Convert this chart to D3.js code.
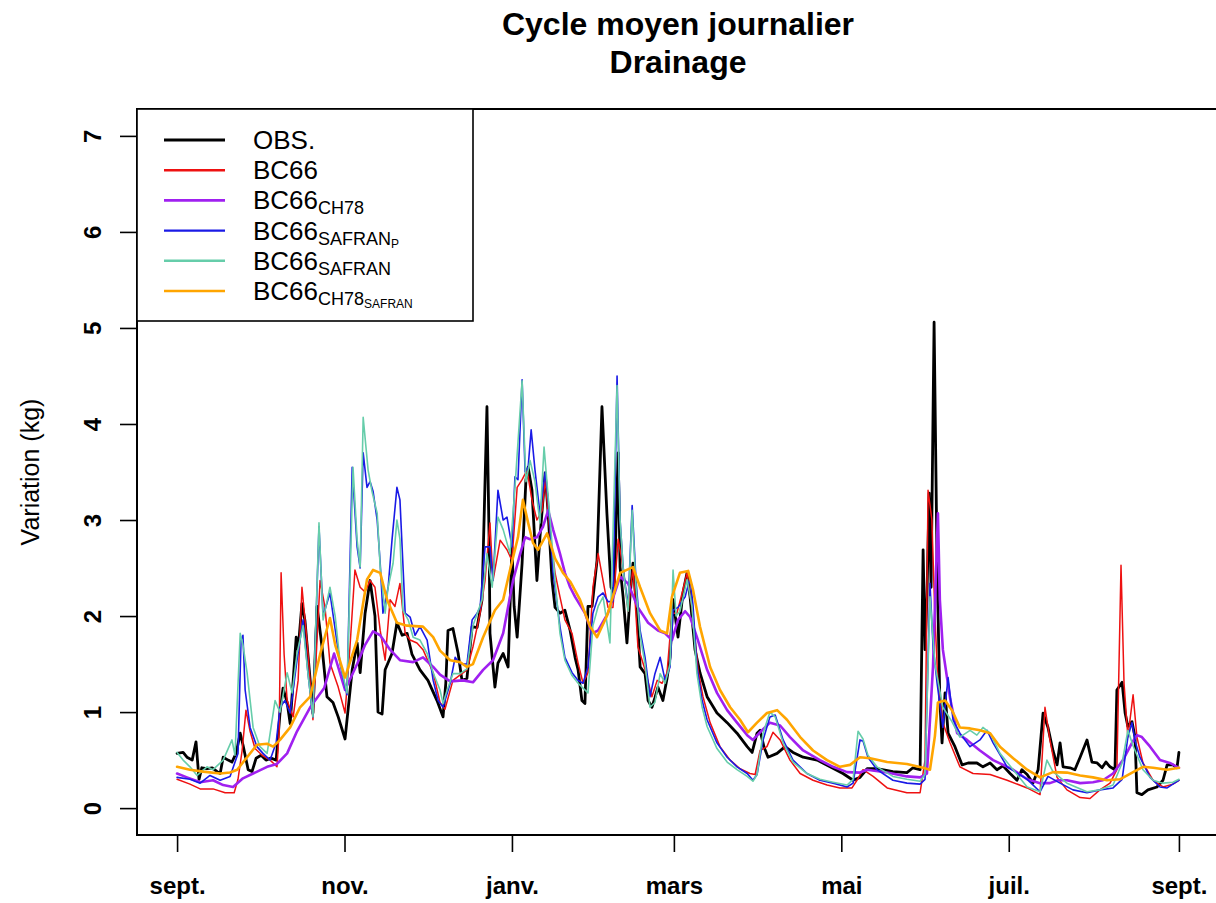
<!DOCTYPE html>
<html><head><meta charset="utf-8">
<script src="https://cdn.jsdelivr.net/npm/d3@7"></script>
<style>
body{margin:0;background:#fff}
svg{display:block}
text{font-family:"Liberation Sans",Arial,Helvetica,sans-serif;fill:#000}
</style>
</head><body>
<svg id="chart" width="1216" height="903"></svg>
<script>
// ---- data: [day since 1 Sept, drainage variation (kg)] ----
const obs = [[0,0.57],[2.2,0.58],[3.6,0.53],[5.5,0.5],[6.9,0.69],[8,0.3],[9,0.42],[10.9,0.41],[12.8,0.42],[14.6,0.38],[15.7,0.36],[16.8,0.53],[18.6,0.5],[20,0.48],[21.5,0.57],[23,0.78],[24,0.66],[25.9,0.4],[27.3,0.38],[28.8,0.52],[30.6,0.55],[32.4,0.5],[34.2,0.52],[36.1,0.5],[37.5,0.99],[38.6,1.25],[40.1,1.1],[41.2,0.88],[42.3,1.33],[43.4,1.78],[44.1,1.65],[45.5,2.13],[46.6,1.95],[48.5,1.33],[49.5,0.99],[51,2.1],[52.8,1.68],[54.6,1.16],[56.8,1.1],[58.7,0.95],[61.2,0.72],[63.8,1.44],[65.6,1.72],[66.7,1.41],[68.5,2.03],[70.3,2.37],[72.1,2.0],[73.2,1.0],[74.7,0.98],[75.8,1.44],[78.3,1.61],[80.1,1.93],[82,1.8],[83.8,1.82],[85.6,1.6],[88.5,1.44],[91.4,1.33],[94.7,1.12],[96.9,0.95],[97.9,1.3],[98.7,1.85],[100.5,1.87],[102.4,1.61],[103.8,1.33],[105.6,1.35],[107.5,1.89],[109.3,1.88],[111.1,2.17],[112.9,4.18],[113.7,2.76],[114,1.82],[115.8,1.26],[116.9,1.51],[118.8,1.61],[120.6,1.47],[122,2.72],[122.8,2.1],[123.9,1.78],[125.7,2.55],[127.1,3.42],[127.9,3.55],[129.3,3.31],[131.1,2.37],[132.2,2.82],[134.1,3.49],[135.2,3.07],[136.6,2.37],[137.7,2.09],[139.5,2.03],[141.3,2.06],[143.2,1.85],[145,1.57],[146.1,1.44],[147.5,1.12],[148.6,1.09],[149.7,2.1],[151.2,2.1],[153,2.58],[154.8,4.18],[156.6,3.07],[158.1,2.3],[159.2,2.24],[160.7,3.7],[161.4,2.51],[162.5,2.2],[163.9,1.72],[165,2.2],[166.1,2.55],[167.6,2.03],[168.7,1.47],[170.5,1.4],[171.6,1.12],[173,1.05],[174.1,1.15],[175.2,1.26],[177,1.12],[178.5,1.35],[179.6,1.57],[180.7,2.17],[182.5,1.78],[184.3,2.24],[185.8,2.45],[186.9,2.2],[188.7,1.65],[190.5,1.41],[193.1,1.16],[196.7,0.99],[200.4,0.89],[204,0.78],[207.7,0.64],[209.5,0.58],[211.3,0.78],[212.4,0.81],[213.8,0.64],[215.3,0.53],[218.6,0.57],[221.5,0.64],[224.4,0.58],[228.1,0.53],[233.2,0.5],[237.9,0.43],[242.6,0.36],[246.3,0.29],[248.8,0.32],[251.4,0.41],[255,0.41],[260.8,0.38],[265.9,0.37],[268.1,0.42],[270.7,0.4],[271.8,2.69],[272.5,1.65],[273.2,2.2],[274,3.28],[274.7,2.3],[275.8,5.06],[276.9,2.5],[277.9,1.12],[278.7,0.68],[279.8,1.2],[280.9,0.78],[283.4,0.64],[286,0.45],[288.2,0.47],[291.4,0.47],[293.6,0.43],[296.2,0.47],[298.7,0.4],[300.9,0.44],[303.5,0.36],[306,0.29],[307.8,0.4],[309.7,0.35],[311.8,0.26],[313.7,0.4],[315.5,0.99],[317.3,0.84],[319.1,0.6],[320.6,0.45],[321.7,0.68],[322.8,0.43],[325.3,0.42],[327.1,0.4],[329,0.53],[331.5,0.71],[333.3,0.48],[335.2,0.47],[337,0.42],[338.4,0.48],[339.9,0.43],[341.7,0.4],[342.4,1.23],[344.3,1.31],[345.4,0.99],[346.4,0.85],[347.9,0.9],[349,0.74],[349.7,0.16],[351.5,0.14],[353.7,0.19],[357,0.22],[359.2,0.29],[360.7,0.45],[362.8,0.45],[364.3,0.42],[365,0.58]];

const bc66 = [[0,0.3],[4.7,0.25],[8.4,0.2],[13.1,0.2],[17.5,0.16],[20.8,0.16],[22.2,0.3],[23.7,0.6],[25.1,1.02],[26.6,0.8],[28.4,0.62],[31,0.55],[33.9,0.5],[36.4,0.43],[37.2,0.8],[37.9,2.45],[39,1.6],[40.1,1.12],[42.3,0.95],[44.1,1.33],[45.5,2.3],[47.4,1.72],[49.5,0.92],[52.1,2.37],[53.9,2.09],[55.7,1.51],[58.7,1.26],[61.2,0.99],[63,1.68],[64.8,2.48],[66.7,2.3],[68.5,2.25],[70.3,2.37],[72.1,2.3],[74,1.85],[75.8,1.54],[77.6,2.17],[79.4,2.1],[81.2,2.34],[83.1,1.82],[84.9,1.75],[87.4,1.72],[89.6,1.65],[93.3,1.41],[95.8,1.1],[97.6,1.03],[100.5,1.33],[105.6,1.44],[107.8,1.68],[110.4,2.03],[112.2,2.37],[114,2.97],[115.1,2.37],[117.7,2.79],[120.2,2.69],[122,2.58],[123.9,3.34],[125.7,3.42],[127.5,3.52],[129.3,3.21],[131.1,3.0],[133,3.1],[134.1,3.42],[135.9,2.86],[137.7,2.45],[139.5,2.2],[141.3,1.96],[143.9,1.82],[146.1,1.51],[147.9,1.3],[149.7,1.41],[151.5,2.3],[153.4,2.65],[155.2,2.37],[157,2.09],[158.8,2.09],[160.7,2.8],[162.5,2.51],[164.3,2.05],[166.1,2.51],[167.9,1.68],[170.5,1.44],[173,1.16],[174.9,1.33],[176.7,1.3],[178.5,1.41],[180.3,2.03],[182.1,2.03],[184,2.24],[185.8,2.45],[188,1.99],[189.8,1.44],[191.6,1.16],[194.2,0.89],[197.8,0.64],[201.5,0.5],[205.1,0.41],[208.7,0.36],[210.6,0.35],[212.4,0.6],[214.9,0.64],[217.1,0.79],[219.7,0.71],[223.3,0.5],[227,0.36],[231.7,0.29],[236.8,0.24],[241.5,0.21],[245.9,0.21],[247.7,0.29],[249.9,0.4],[253.6,0.33],[258.7,0.21],[265.9,0.16],[270.7,0.16],[272.5,0.5],[273.6,3.31],[275,3.0],[276.1,2.0],[277.2,1.3],[279,0.89],[281.6,0.68],[285.2,0.43],[290,0.36],[296.2,0.35],[302.4,0.29],[309.7,0.21],[314.4,0.14],[316.2,1.05],[318,0.71],[320.6,0.32],[324.2,0.19],[329,0.11],[332.6,0.1],[336.2,0.19],[339.9,0.26],[342.4,0.4],[343.9,2.53],[345,1.3],[346.4,0.74],[348.3,1.18],[349.7,0.74],[351.9,0.47],[355.6,0.29],[359.2,0.22],[362.8,0.25],[365,0.29]];

const bc66ch78 = [[0,0.36],[3.6,0.32],[8.4,0.27],[13.1,0.29],[16.8,0.24],[20.4,0.22],[24,0.31],[27.7,0.36],[32.8,0.43],[36.4,0.46],[40.1,0.57],[43.7,0.8],[48.5,1.05],[53.6,1.25],[57.2,1.61],[61.2,1.23],[65.6,1.5],[68.5,1.7],[71.4,1.84],[74,1.8],[77.6,1.65],[81.2,1.54],[86,1.52],[89.6,1.57],[93.3,1.47],[95.8,1.39],[99.5,1.32],[104.2,1.33],[107.8,1.31],[111.5,1.44],[115.1,1.54],[118.8,1.82],[122.4,2.37],[125,2.65],[126.8,2.82],[128.6,2.8],[131.1,2.82],[133.3,2.93],[135.2,3.1],[137,2.9],[139.5,2.65],[141.3,2.45],[143.2,2.3],[145,2.2],[148.6,2.03],[151.2,1.82],[153.4,1.85],[157,2.03],[161.4,2.41],[164.3,2.34],[167.9,2.09],[171.6,1.93],[175.2,1.85],[177.8,1.82],[180.3,1.75],[182.5,1.96],[185.1,2.05],[186.9,1.99],[189.4,1.78],[193.1,1.44],[196.7,1.2],[200.4,1.02],[204,0.89],[207.7,0.76],[209.8,0.71],[212.4,0.79],[216,0.89],[219.7,0.86],[223.3,0.74],[228.1,0.6],[234.2,0.5],[239,0.43],[244.1,0.375],[248.8,0.37],[251.4,0.4],[258.7,0.37],[265.9,0.33],[270.7,0.32],[273.2,0.36],[275.4,1.47],[277.2,3.07],[277.9,2.17],[279,1.65],[280.5,1.36],[281.6,1.15],[284.2,0.78],[287.8,0.71],[292.5,0.6],[297.3,0.5],[304.6,0.4],[309.7,0.3],[314.4,0.26],[318,0.26],[320.9,0.29],[324.2,0.29],[329,0.26],[333.7,0.27],[337.3,0.29],[341,0.36],[344.6,0.5],[347.9,0.68],[349.7,0.76],[351.5,0.74],[354.5,0.64],[358.1,0.5],[361.7,0.47],[365,0.42]];

const bc66safranP = [[0,0.32],[4.7,0.3],[8.4,0.26],[12,0.34],[15.7,0.29],[19.3,0.33],[22.2,0.57],[23.3,1.75],[24,1.8],[24.8,1.23],[26.6,0.84],[29.1,0.64],[31.3,0.57],[33.9,0.5],[36.1,0.68],[37.5,1.05],[39.3,1.12],[41.2,0.99],[43.7,1.54],[45.9,1.96],[47.7,1.4],[49.5,0.95],[51.7,2.93],[53.2,2.0],[55.7,2.24],[59.4,1.5],[61.9,1.18],[63.8,3.55],[65.6,2.72],[66.7,2.5],[67.8,3.7],[69.2,3.34],[70.3,3.4],[71.4,3.3],[72.9,3.0],[74,2.55],[75,2.03],[76.9,2.3],[78.3,2.79],[80.1,3.34],[81.2,3.21],[83.1,2.03],[84.9,1.99],[86.7,1.8],[88.5,1.89],[91.1,1.75],[93.3,1.33],[95.1,1.12],[96.9,1.05],[99.5,1.3],[101.3,1.57],[103.1,1.5],[105.6,1.5],[107.5,1.96],[109.3,2.03],[110.4,2.09],[112.2,2.72],[114,2.72],[115.1,2.37],[116.9,3.31],[118.8,3.0],[120.2,3.03],[122,2.72],[123.1,3.45],[124.2,3.42],[125.7,4.46],[126.8,3.5],[127.9,3.55],[129,3.94],[130.4,3.52],[132.2,3.07],[134.1,3.5],[135.2,3.21],[137,2.45],[139.5,1.89],[141.3,1.57],[143.9,1.41],[146.1,1.33],[147.9,1.3],[149.7,1.47],[151.5,2.03],[153.4,2.2],[155.2,2.24],[157,2.15],[158.8,2.15],[160.3,4.5],[161.4,3.0],[162.5,2.51],[164.3,2.09],[165.8,3.15],[167.2,2.37],[168.7,1.85],[170.5,1.57],[172.3,1.16],[174.1,1.4],[176,1.57],[177.8,1.33],[179.6,1.47],[180.7,2.06],[182.5,2.09],[185.1,2.2],[186.9,2.4],[188,2.1],[189.4,1.47],[191.3,1.12],[193.1,0.92],[196.7,0.68],[200.4,0.53],[204,0.43],[207.7,0.36],[209.8,0.29],[211.3,0.35],[213.5,0.71],[216,0.95],[217.9,0.97],[220.8,0.71],[224.4,0.5],[229.5,0.36],[234.2,0.29],[239,0.26],[244.1,0.22],[246.3,0.26],[248.8,0.71],[249.9,0.7],[251.7,0.53],[255,0.4],[260.8,0.29],[265.9,0.26],[270.7,0.25],[272.5,0.3],[274.3,2.34],[275.4,1.7],[276.9,1.3],[279,0.84],[280.9,1.36],[282.7,0.92],[285.2,0.78],[288.9,0.64],[292.5,0.71],[295.1,0.81],[297.3,0.68],[302.4,0.43],[309.7,0.3],[314.4,0.17],[317.3,0.33],[321.7,0.26],[326.4,0.19],[331.5,0.16],[336.2,0.19],[341,0.21],[344.3,0.3],[346.4,0.74],[347.9,0.89],[349,0.7],[350.8,0.53],[354.5,0.32],[358.1,0.22],[360.7,0.21],[362.8,0.25],[365,0.29]];

const bc66safran = [[0,0.58],[2.2,0.5],[4.7,0.43],[7.3,0.34],[10.9,0.43],[13.1,0.4],[16.8,0.5],[20,0.71],[21.1,0.55],[23,1.82],[24,1.7],[25.5,1.41],[27.7,0.84],[30.2,0.64],[32.8,0.57],[35.7,1.12],[37.5,1.0],[40.1,1.41],[41.9,1.2],[43.7,1.61],[45.9,1.9],[47.7,1.4],[49.5,0.95],[51.7,2.97],[53.2,1.96],[55.7,2.3],[57.6,2.0],[59.4,1.51],[61.9,1.2],[64.1,3.55],[65.6,2.79],[66.7,2.51],[67.8,4.07],[69.6,3.52],[71,3.3],[72.9,3.07],[74,2.51],[75.8,2.03],[76.9,2.3],[78.7,2.55],[80.1,3.0],[81.2,2.8],[82.3,2.06],[84.2,1.96],[86,1.78],[88.5,1.75],[91.1,1.61],[93.3,1.41],[95.8,1.23],[96.9,1.09],[98.4,1.23],[100.5,1.4],[103.1,1.4],[105.6,1.45],[107.8,1.9],[111.1,2.17],[112.9,2.65],[114.8,2.3],[116.9,3.03],[118.8,2.9],[121.3,2.65],[123.1,3.34],[125.7,4.45],[127.1,3.4],[128.6,3.62],[130.4,3.4],[132.2,2.97],[133.7,3.76],[135.9,3.0],[137.7,2.375],[139.5,1.82],[141.3,1.54],[143.9,1.38],[146.1,1.3],[149.7,1.2],[151.5,1.9],[153.4,2.1],[155.2,2.2],[157.7,1.72],[160.3,4.4],[161.4,3.0],[162.5,2.5],[164.3,2.05],[165.8,3.1],[167.2,2.3],[168.7,1.8],[170.5,1.5],[172.3,1.05],[174.1,1.1],[176,1.4],[177.8,1.3],[179.6,1.5],[180.7,2.48],[181.8,2.0],[183.2,2.05],[185.8,2.38],[187.6,2.1],[189.4,1.4],[191.3,1.05],[193.1,0.85],[196.7,0.62],[200.4,0.48],[204,0.4],[207.7,0.33],[209.8,0.28],[211.3,0.35],[213.5,0.78],[216,1.0],[217.9,0.95],[220.8,0.68],[224.4,0.48],[229.5,0.36],[234.2,0.3],[239,0.27],[244.1,0.24],[246.3,0.3],[248.1,0.8],[249.9,0.72],[251.7,0.55],[255,0.43],[260.8,0.33],[265.9,0.3],[270.7,0.28],[272.5,0.35],[274.3,2.2],[276.1,1.5],[279,1.05],[282.3,0.9],[285.2,0.74],[288.9,0.81],[291.4,0.76],[293.6,0.84],[296.2,0.78],[299.8,0.57],[304.6,0.4],[309.7,0.22],[314.4,0.17],[316.9,0.5],[319.1,0.38],[324.2,0.26],[331.5,0.17],[336.2,0.19],[341,0.24],[344.3,0.47],[346.4,0.81],[348.3,0.65],[351.9,0.4],[355.6,0.29],[359.2,0.26],[362.8,0.27],[365,0.3]];

const bc66ch78safran = [[0,0.43],[4.7,0.4],[9.5,0.38],[15.7,0.36],[19.3,0.37],[21.9,0.4],[25.5,0.53],[29.1,0.66],[32.8,0.67],[35,0.64],[37.5,0.71],[41.2,0.84],[44.8,1.05],[48.5,1.16],[52.1,1.6],[55.7,1.98],[57.6,1.7],[61.2,1.36],[65.6,1.75],[69.2,2.38],[71.4,2.48],[74,2.45],[76.5,2.17],[80.1,1.93],[83.8,1.9],[89.6,1.89],[93.3,1.78],[95.8,1.64],[99.5,1.54],[103.1,1.52],[105.6,1.47],[107.8,1.5],[111.5,1.78],[115.8,2.06],[118.8,2.17],[121.3,2.48],[124.2,2.82],[126,3.21],[127.9,2.97],[129.7,2.76],[131.5,2.69],[134.8,2.86],[137.7,2.6],[140.6,2.45],[143.2,2.36],[146.8,2.17],[150.5,1.89],[153,1.78],[156.6,2.0],[161.4,2.45],[166.1,2.51],[168.7,2.3],[172.3,2.03],[176,1.85],[178.5,1.82],[180.3,2.2],[183.2,2.45],[186.2,2.47],[188,2.27],[190.5,1.89],[194.2,1.47],[197.8,1.23],[201.5,1.05],[205.1,0.92],[208,0.79],[211.3,0.89],[214.9,0.99],[218.6,1.02],[222.2,0.92],[227,0.74],[231.7,0.6],[236.8,0.5],[241.5,0.43],[245.2,0.45],[248.8,0.53],[252.5,0.52],[258.7,0.48],[265.9,0.46],[271.8,0.42],[274.3,0.4],[276.1,0.75],[277.2,1.1],[279.8,1.12],[282.3,1.02],[285.2,0.84],[288.9,0.83],[292.5,0.81],[296.2,0.78],[299.8,0.64],[304.6,0.52],[309.7,0.4],[314.4,0.32],[319.1,0.375],[324.2,0.37],[329,0.34],[333.7,0.32],[338.8,0.29],[343.5,0.3],[348.3,0.375],[351.9,0.43],[355.6,0.42],[360.7,0.4],[365,0.42]];

const seriesNames = ["OBS.", "BC66", "BC66_CH78", "BC66_SAFRAN_P", "BC66_SAFRAN", "BC66_CH78_SAFRAN"];
const seriesData = [obs, bc66, bc66ch78, bc66safranP, bc66safran, bc66ch78safran];
const seriesColors = ["#000000", "#ee1111", "#a020f0", "#1a1ae6", "#66cdaa", "#ffa500"];
const seriesWidths = [2.8, 1.5, 2.6, 1.6, 1.6, 2.6];

const monthLabels = ["sept.", "nov.", "janv.", "mars", "mai", "juil.", "sept."];
const yTicks = [0, 1, 2, 3, 4, 5, 6, 7];
const titleLines = ["Cycle moyen journalier", "Drainage"];
const yTitle = "Variation (kg)";

// ---- layout ----
const svg = d3.select("#chart");
const plot = {left: 137, right: 1219, top: 109, bottom: 835};
const startDate = new Date(2010, 8, 1);
const endDate = new Date(2011, 8, 1);
const nDays = d3.timeDay.count(startDate, endDate);
const tickDays = d3.timeMonth.every(2).range(startDate, d3.timeDay.offset(endDate, 1))
  .map(d => d3.timeDay.count(startDate, d));

const xPad = nDays * 0.04;
const x = d3.scaleLinear().domain([-xPad, nDays + xPad]).range([plot.left, plot.right]);
const yPad = 7 * 0.04;
const y = d3.scaleLinear().domain([-yPad, 7 + yPad]).range([plot.bottom, plot.top]);

// clip
svg.append("defs").append("clipPath").attr("id", "clip")
  .append("rect").attr("x", plot.left).attr("y", plot.top)
  .attr("width", plot.right - plot.left).attr("height", plot.bottom - plot.top);

// lines
const line = d3.line().x(d => x(d[0])).y(d => y(d[1]));
const g = svg.append("g").attr("clip-path", "url(#clip)");
seriesData.forEach((data, i) => {
  g.append("path").datum(data)
    .attr("d", line)
    .attr("fill", "none")
    .attr("stroke", seriesColors[i])
    .attr("stroke-width", seriesWidths[i])
    .attr("stroke-linejoin", "round")
    .attr("stroke-linecap", "round");
});

// frame
svg.append("rect").attr("x", plot.left).attr("y", plot.top)
  .attr("width", plot.right - plot.left).attr("height", plot.bottom - plot.top)
  .attr("fill", "none").attr("stroke", "#000").attr("stroke-width", 2);

// x axis
const xAxis = d3.axisBottom(x).tickValues(tickDays)
  .tickFormat((d, i) => monthLabels[i]).tickSize(17).tickPadding(25);
const gx = svg.append("g").attr("transform", `translate(0,${plot.bottom})`).call(xAxis);
gx.select(".domain").remove();
gx.selectAll(".tick line").attr("stroke", "#000").attr("stroke-width", 1.6);
gx.selectAll(".tick text").attr("font-size", 24).attr("font-weight", "bold")
  .attr("font-family", "'Liberation Sans',Arial,sans-serif").attr("fill", "#000");

// y axis
const yAxis = d3.axisLeft(y).tickValues(yTicks).tickFormat(d3.format("d")).tickSize(17);
const gy = svg.append("g").attr("transform", `translate(${plot.left},0)`).call(yAxis);
gy.select(".domain").remove();
gy.selectAll(".tick line").attr("stroke", "#000").attr("stroke-width", 1.6);
gy.selectAll(".tick text")
  .attr("x", null).attr("dy", null)
  .attr("transform", "translate(-45,0) rotate(-90)")
  .attr("text-anchor", "middle")
  .attr("dominant-baseline", "central")
  .attr("font-size", 24).attr("font-weight", "bold")
  .attr("font-family", "'Liberation Sans',Arial,sans-serif").attr("fill", "#000");

// y title
svg.append("text")
  .attr("transform", `translate(39,${(plot.top + plot.bottom) / 2}) rotate(-90)`)
  .attr("text-anchor", "middle")
  .attr("font-size", 25).text(yTitle);

// title
const cx = (plot.left + plot.right) / 2;
titleLines.forEach((t, i) => {
  svg.append("text").attr("x", cx).attr("y", 35 + i * 38)
    .attr("text-anchor", "middle").attr("font-size", 32).attr("font-weight", "bold").text(t);
});

// legend
const leg = svg.append("g");
leg.append("rect").attr("x", plot.left).attr("y", plot.top).attr("width", 336).attr("height", 212)
  .attr("fill", "#fff").attr("stroke", "#000").attr("stroke-width", 1.6);
const rowY = i => 140 + i * 30.2;
seriesNames.forEach((name, i) => {
  leg.append("line").attr("x1", 164).attr("x2", 225).attr("y1", rowY(i)).attr("y2", rowY(i))
    .attr("stroke", seriesColors[i]).attr("stroke-width", Math.max(2.4, seriesWidths[i]));
  const t = leg.append("text").attr("x", 253).attr("y", rowY(i) + 9).attr("font-size", 26);
  const parts = name.split("_");
  t.append("tspan").text(parts[0]);
  if (parts.length > 1) {
    t.append("tspan").attr("font-size", 18).attr("dy", 5).text(parts[1]);
  }
  if (parts.length > 2) {
    t.append("tspan").attr("font-size", 12).attr("dy", 3).text(parts[2]);
  }
});
</script>
</body></html>
